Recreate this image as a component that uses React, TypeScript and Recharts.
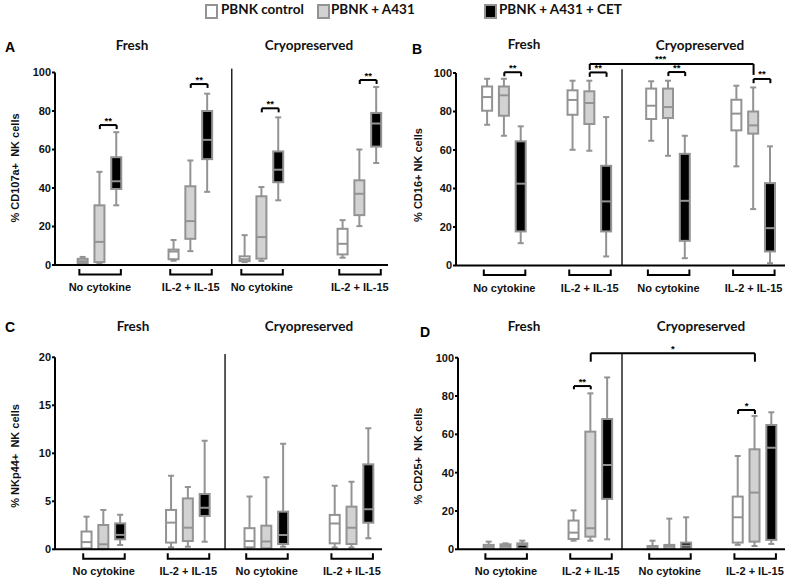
import React from "react";
import { Bar, ComposedChart, ReferenceLine, XAxis, YAxis } from "recharts";

// box stats: [min, q1, median, q3, max] per group
const groupLabels = ["No cytokine", "IL-2 + IL-15", "No cytokine", "IL-2 + IL-15"];
const seriesNames = ["PBNK control", "PBNK + A431", "PBNK + A431 + CET"];

const cd107aControl = [[0.3, 1, 2, 3.2, 4.2], [2.2, 3, 7, 8, 13], [1.5, 2, 3, 4.5, 15.5], [3.8, 5.5, 11, 18.8, 23.3]];
const cd107aA431 = [[0.8, 1.5, 12, 31, 48.4], [7.2, 13.6, 22.8, 40.9, 54.3], [2.1, 3.3, 14.5, 35.7, 40.5], [20.2, 25.9, 37, 44, 60]];
const cd107aCet = [[31, 39.5, 43.5, 56, 69], [38, 55, 65, 80, 89], [33.6, 43, 49.5, 59, 76.7], [53, 61.5, 73.5, 79, 92.5]];

const cd16Control = [[73.1, 80.4, 87.5, 93, 97], [60.1, 78.3, 86, 91, 96], [64.8, 76.1, 83, 91.9, 95.7], [51.5, 70.2, 78.9, 86.1, 93.4]];
const cd16A431 = [[67.4, 77.8, 88.4, 93, 97], [59.6, 73.5, 84.4, 90.5, 96], [57, 76.6, 82.3, 91.9, 96], [29.3, 68.5, 72.8, 80, 92.5]];
const cd16Cet = [[11.6, 17.7, 42.5, 64.5, 72.3], [4.7, 17.7, 33.3, 51.8, 77.1], [3.8, 12.8, 33.6, 58, 67.4], [1.2, 7.3, 19.4, 42.8, 61.9]];

const nkp44Control = [[0.05, 0.1, 0.75, 1.85, 3.4], [0.2, 0.7, 2.78, 4.1, 7.67], [0.05, 0.2, 0.86, 2.2, 5.5], [0.2, 0.62, 2.7, 3.58, 6.63]];
const nkp44A431 = [[0.02, 0.05, 0.52, 2.53, 4.1], [0.27, 0.86, 2.25, 5.3, 6.5], [0.05, 0.1, 0.8, 2.46, 7.5], [0.2, 0.55, 2.25, 4.44, 7.04]];
const nkp44Cet = [[0.45, 1.04, 1.5, 2.7, 3.6], [0.79, 3.47, 4.33, 5.76, 11.3], [0.27, 0.55, 1.5, 3.92, 11], [1.15, 2.77, 4.17, 8.85, 12.6]];

const cd25Control = [[0.5, 0.5, 1.4, 2.3, 4], [4.5, 5.4, 8.7, 15, 20.3], [0.5, 0.5, 1.4, 1.7, 4.5], [2.3, 3.5, 16.7, 27.5, 48.7]];
const cd25A431 = [[0.5, 0.5, 1.7, 2.6, 3.1], [4.5, 6.6, 11, 61.4, 81.4], [0.5, 0.5, 1.7, 2.3, 16], [1.7, 4, 29.6, 52.2, 69.6]];
const cd25Cet = [[0.5, 0.5, 2.3, 3.1, 4.5], [5.2, 26.3, 44, 68, 89.7], [0.5, 0.5, 1.9, 3.5, 16.7], [2.8, 4.9, 53, 64.9, 71.5]];

const ticks100 = [0, 20, 40, 60, 80, 100];
const ticks20 = [0, 5, 10, 15, 20];

// significance brackets: [group, series] -> [group, series], bar level, leg ends, stars
const cd107aSig = [
  { from: [0, 1], to: [0, 2], y: 72.7, legs: [70.6, 70.6], text: "**" },
  { from: [1, 1], to: [1, 2], y: 94, legs: [92, 92], text: "**" },
  { from: [2, 1], to: [2, 2], y: 81.4, legs: [79.3, 79.3], text: "**" },
  { from: [3, 1], to: [3, 2], y: 96.1, legs: [94, 94], text: "**" },
];
const cd16Sig = [
  { from: [0, 1], to: [0, 2], y: 100.4, legs: [98.3, 98.3], text: "**" },
  { from: [1, 1], to: [1, 2], y: 100.3, legs: [98, 98], text: "**" },
  { from: [2, 1], to: [2, 2], y: 100.5, legs: [98.4, 98.4], text: "**" },
  { from: [3, 1], to: [3, 2], y: 96.9, legs: [94.7, 94.7], text: "**" },
  { from: [1, 1], to: [3, 1], y: 104.7, legs: [101.6, 99], text: "***", shift: -11 },
];
const nkp44Sig: any[] = [];
const cd25Sig = [
  { from: [1, 0], to: [1, 1], y: 85.2, legs: [83.5, 83.5], text: "**" },
  { from: [1, 1], to: [3, 1], y: 102.3, legs: [97.9, 97.9], text: "*" },
  { from: [3, 0], to: [3, 1], y: 72.7, legs: [70.6, 70.6], text: "*" },
];

const GRAY = "#939393";
const FILLS = ["#ffffff", "#d2d2d2", "#000000"];
const TICK_FONT = "'Liberation Sans', Arial, sans-serif";
const TITLE_FONT = "Lato, 'Open Sans', sans-serif";

const panels = [
  {
    letter: "A", yLabel: "% CD107a+  NK cells", stats: [cd107aControl, cd107aA431, cd107aCet], sig: cd107aSig,
    yMax: 100, yTicks: ticks100, divTop: 102,
    box: { left: 0, top: 40, pl: 55, pr: 388, pt: 72.5, pb: 265 },
    xMax: 19.82, whites: [1.67, 7.08, 11.31, 17.14], divider: 10.52,
    letterPos: [5, 47], titles: [[132, 45], [309, 45]], yLabelPos: [15, 168],
  },
  {
    letter: "B", yLabel: "% CD16+ NK cells", stats: [cd16Control, cd16A431, cd16Cet], sig: cd16Sig,
    yMax: 100, yTicks: ticks100, divTop: 102,
    box: { left: 390, top: 40, pl: 456, pr: 785, pt: 73, pb: 265.5 },
    xMax: 19.58, whites: [1.875, 6.96, 11.64, 16.71], divider: 9.88,
    letterPos: [412, 49], titles: [[524, 44], [700, 45]], yLabelPos: [418, 175],
  },
  {
    letter: "C", yLabel: "% NKp44+  NK cells", stats: [nkp44Control, nkp44A431, nkp44Cet], sig: nkp44Sig,
    yMax: 20, yTicks: ticks20, divTop: 20.35,
    box: { left: 0, top: 318, pl: 55, pr: 382, pt: 357.3, pb: 549.3 },
    xMax: 19.46, whites: [1.9, 6.93, 11.6, 16.67], divider: 10.12,
    letterPos: [5, 327], titles: [[133, 326], [309, 326]], yLabelPos: [15, 456],
  },
  {
    letter: "D", yLabel: "% CD25+  NK cells", stats: [cd25Control, cd25A431, cd25Cet], sig: cd25Sig,
    yMax: 100, yTicks: ticks100, divTop: 102,
    box: { left: 390, top: 318, pl: 458, pr: 785, pt: 357.7, pb: 549.3 },
    xMax: 19.46, whites: [1.85, 6.9, 11.6, 16.67], divider: 9.76,
    letterPos: [420, 332], titles: [[524, 326], [701, 326]], yLabelPos: [418, 456],
  },
];

function BoxShape(props: any) {
  const { x, y, width, height, payload } = props;
  if (x == null || y == null) return null;
  const [mn, q1, md, q3, mx] = payload.stats;
  const top = Math.min(y, y + height);
  const bottom = Math.max(y, y + height);
  const py = (v: number) => bottom - ((v - mn) / (mx - mn)) * (bottom - top);
  const cx = x + width / 2;
  const bw = 10;
  const cap = 3;
  return (
    <g>
      <line x1={cx} x2={cx} y1={py(mx)} y2={py(q3)} stroke={GRAY} strokeWidth={2} />
      <line x1={cx} x2={cx} y1={py(q1)} y2={py(mn)} stroke={GRAY} strokeWidth={2} />
      <line x1={cx - cap} x2={cx + cap} y1={py(mx)} y2={py(mx)} stroke={GRAY} strokeWidth={2} />
      <line x1={cx - cap} x2={cx + cap} y1={py(mn)} y2={py(mn)} stroke={GRAY} strokeWidth={2} />
      <rect x={cx - bw / 2} y={py(q3)} width={bw} height={Math.max(py(q1) - py(q3), 0.5)} fill={FILLS[payload.kind]} stroke={GRAY} strokeWidth={2} />
      <line x1={cx - bw / 2} x2={cx + bw / 2} y1={py(md)} y2={py(md)} stroke={GRAY} strokeWidth={2} />
    </g>
  );
}

function starLabel(text: string, shift = 0) {
  return (lp: any) => {
    const vb = lp.viewBox || {};
    const x = vb.x != null ? vb.x + (vb.width || 0) / 2 : (vb.x1 + vb.x2) / 2;
    const y = vb.y != null ? vb.y : vb.y1;
    return (
      <text x={x + shift} y={y - 1.5} textAnchor="middle" fontFamily={TICK_FONT} fontWeight="bold" fontSize={9.5} fill="#000">
        {text}
      </text>
    );
  };
}

function Panel({ p }: { p: any }) {
  const { box } = p;
  const yAxisW = 30;
  const xAxisH = 40;
  const width = box.pr - box.left + 4;
  const height = box.pb - box.top + xAxisH;
  const margin = { top: box.pt - box.top, right: 4, bottom: 0, left: box.pl - box.left - yAxisW };

  const rows: any[] = [];
  p.whites.forEach((w: number, g: number) => {
    p.stats.forEach((series: number[][], s: number) => {
      rows.push({ pos: w + s, kind: s, stats: series[g] });
    });
  });
  const centers = p.whites.map((w: number) => w + 1);
  const posOf = (gs: number[]) => p.whites[gs[0]] + gs[1];

  const renderTick = (props: any) => {
    const { x, y, payload } = props;
    const idx = centers.findIndex((c: number) => Math.abs(c - payload.value) < 1e-6);
    return (
      <g>
        <path d={`M${x - 20.5},${y + 4}V${y + 9.5}H${x + 21}V${y + 4}`} fill="none" stroke="#000" strokeWidth={2} />
        <text x={x} y={y + 26} textAnchor="middle" fontFamily={TICK_FONT} fontWeight="bold" fontSize={11} fill="#111">
          {groupLabels[idx]}
        </text>
      </g>
    );
  };

  return (
    <div style={{ position: "absolute", left: box.left, top: box.top }}>
      <ComposedChart width={width} height={height} data={rows} margin={margin}>
        <XAxis
          type="number" dataKey="pos" domain={[0, p.xMax]} allowDataOverflow ticks={centers}
          tick={renderTick} tickLine={false} tickSize={0} tickMargin={0} height={xAxisH}
          axisLine={{ stroke: "#000", strokeWidth: 2 }} interval={0}
        />
        <YAxis
          type="number" domain={[0, p.yMax]} ticks={p.yTicks} width={yAxisW} interval={0}
          tickSize={3} tickMargin={1}
          axisLine={{ stroke: "#000", strokeWidth: 2 }} tickLine={{ stroke: "#000", strokeWidth: 2 }}
          tick={{ fontFamily: TICK_FONT, fontWeight: "bold", fontSize: 11, fill: "#111" }}
        />
        <Bar dataKey={(r: any) => [r.stats[0], r.stats[4]]} barSize={12} shape={BoxShape} isAnimationActive={false} />
        <ReferenceLine
          segment={[{ x: p.divider, y: 0 }, { x: p.divider, y: p.divTop }]}
          stroke="#222" strokeWidth={1.5} ifOverflow="visible"
        />
        {p.sig.map((s: any, i: number) => {
          const x1 = posOf(s.from);
          const x2 = posOf(s.to);
          return (
            <React.Fragment key={i}>
              <ReferenceLine
                segment={[{ x: x1, y: s.y }, { x: x2, y: s.y }]} stroke="#000" strokeWidth={2} ifOverflow="visible"
                label={starLabel(s.text, s.shift || 0)}
              />
              <ReferenceLine segment={[{ x: x1, y: s.y }, { x: x1, y: s.legs[0] }]} stroke="#000" strokeWidth={2} ifOverflow="visible" />
              <ReferenceLine segment={[{ x: x2, y: s.y }, { x: x2, y: s.legs[1] }]} stroke="#000" strokeWidth={2} ifOverflow="visible" />
            </React.Fragment>
          );
        })}
      </ComposedChart>
    </div>
  );
}

const abs = (x: number, y: number, extra: any = {}) => ({
  position: "absolute" as const, left: x, top: y, transform: "translate(-50%, -50%)", whiteSpace: "pre" as const, ...extra,
});

export default function App() {
  const legendX = [[211, 221], [323, 331], [490, 499]];
  return (
    <div style={{ position: "absolute", left: 0, top: 0, width: 787, height: 579, background: "#fff", overflow: "hidden" }}>
      {seriesNames.map((name, i) => (
        <React.Fragment key={name}>
          <div style={{ position: "absolute", left: legendX[i][0] - 6, top: 4, width: 9, height: 11, background: FILLS[i], border: `2px solid ${GRAY}` }} />
          <div style={{ position: "absolute", left: legendX[i][1], top: 1, fontFamily: TITLE_FONT, fontWeight: 700, fontSize: 13.5, color: "#111", whiteSpace: "pre" }}>
            {name}
          </div>
        </React.Fragment>
      ))}
      {panels.map((p) => (
        <React.Fragment key={p.letter}>
          <Panel p={p} />
          <div style={abs(p.letterPos[0], p.letterPos[1], { transform: "translate(0, -50%)", fontFamily: TICK_FONT, fontWeight: "bold", fontSize: 14 })}>{p.letter}</div>
          <div style={abs(p.titles[0][0], p.titles[0][1], { fontFamily: TITLE_FONT, fontWeight: 700, fontSize: 13.5, color: "#111" })}>Fresh</div>
          <div style={abs(p.titles[1][0], p.titles[1][1], { fontFamily: TITLE_FONT, fontWeight: 700, fontSize: 13.5, color: "#111" })}>Cryopreserved</div>
          <div style={abs(p.yLabelPos[0], p.yLabelPos[1], { transform: "translate(-50%, -50%) rotate(-90deg)", fontFamily: TICK_FONT, fontWeight: "bold", fontSize: 11, color: "#111" })}>
            {p.yLabel}
          </div>
        </React.Fragment>
      ))}
    </div>
  );
}
